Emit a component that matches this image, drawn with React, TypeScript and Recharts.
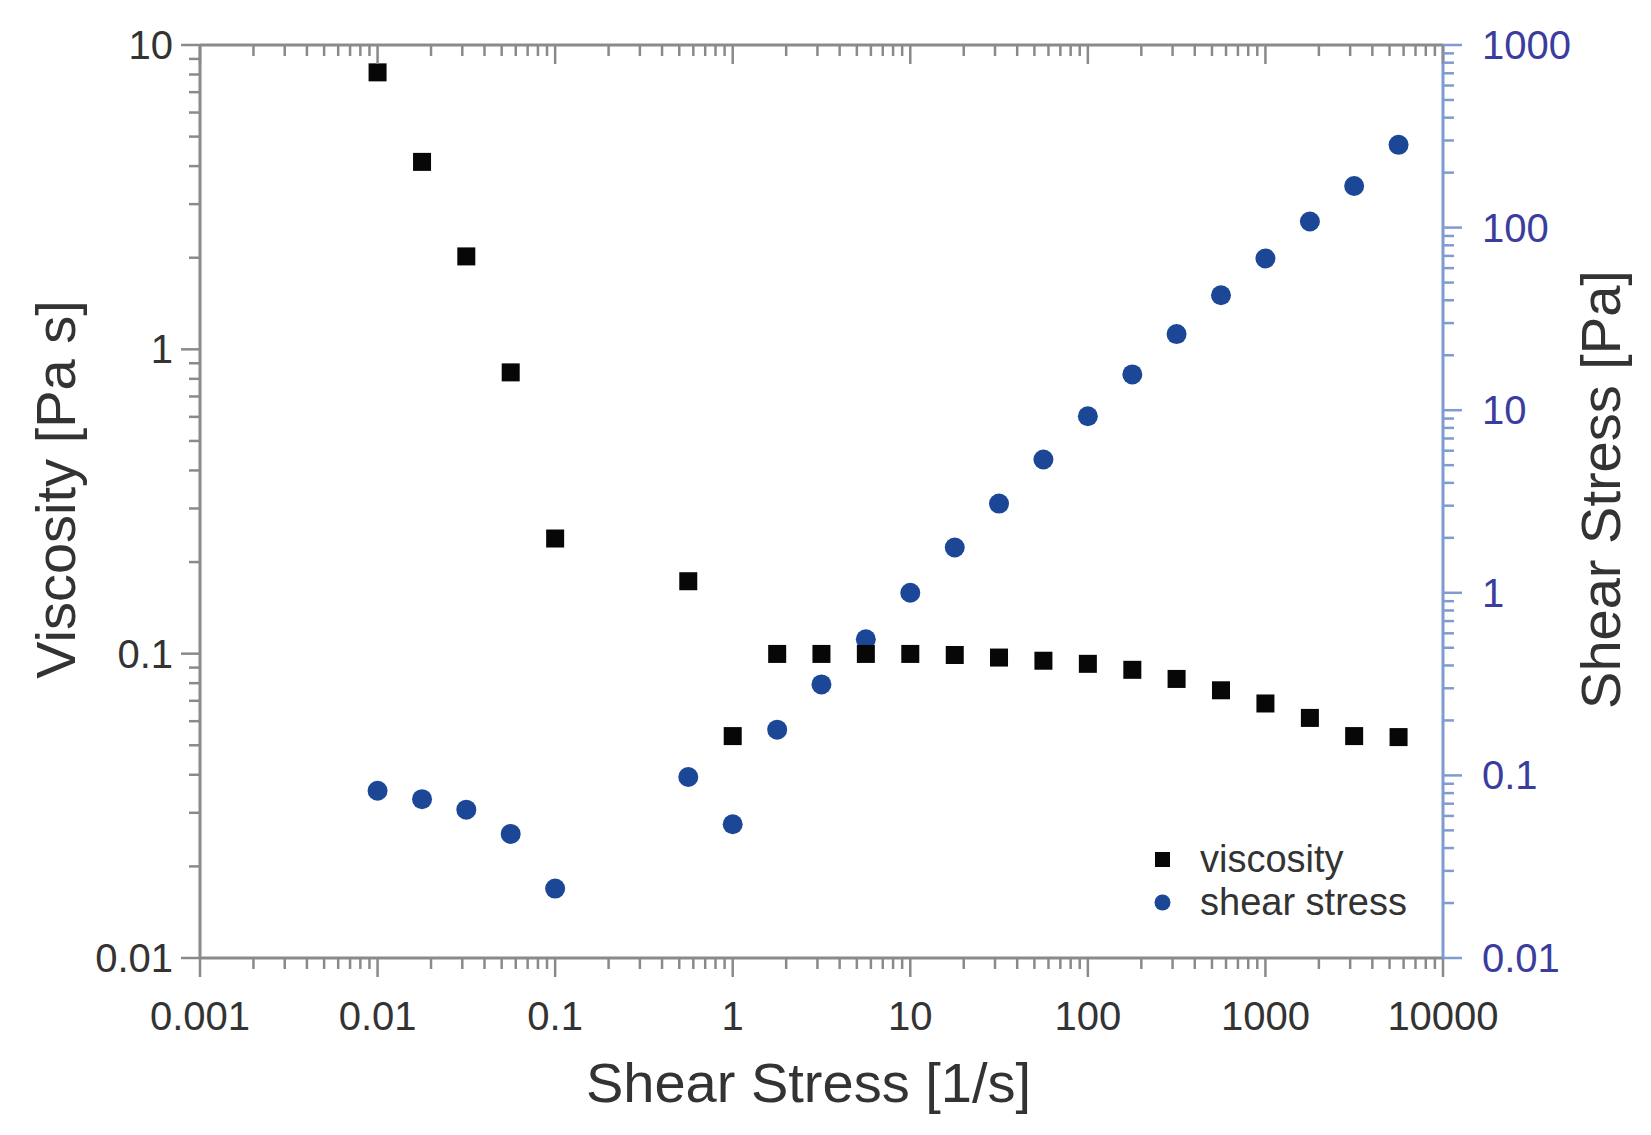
import { ScatterChart, Scatter, XAxis, YAxis, Legend } from "recharts";

// shear rate (x)
const shearRate = [
  0.01, 0.0178, 0.0316, 0.0562, 0.1, 0.562, 1, 1.78, 3.16, 5.62, 10, 17.8, 31.6, 56.2, 100, 178, 316, 562, 1000,
  1780, 3160, 5620,
];
const viscosity = [
  8.13, 4.13, 2.02, 0.84, 0.239, 0.173, 0.0536, 0.0998, 0.0998, 0.0998, 0.0998, 0.099, 0.0971, 0.0948, 0.0926,
  0.0885, 0.0826, 0.0758, 0.0686, 0.0615, 0.0536, 0.0532,
];
const shearStress = [
  0.0824, 0.0741, 0.0649, 0.0478, 0.024, 0.098, 0.054, 0.178, 0.315, 0.556, 1.0, 1.77, 3.08, 5.37, 9.27, 15.7, 26.1,
  42.6, 67.7, 108, 169, 284,
];

const xMajor = [0.001, 0.01, 0.1, 1, 10, 100, 1000, 10000];
const xLabels = ["0.001", "0.01", "0.1", "1", "10", "100", "1000", "10000"];
const leftMajor = [0.01, 0.1, 1, 10];
const leftLabels = ["0.01", "0.1", "1", "10"];
const rightMajor = [0.01, 0.1, 1, 10, 100, 1000];
const rightLabels = ["0.01", "0.1", "1", "10", "100", "1000"];

const legendNames = ["viscosity", "shear stress"];

const BLACK = "#070707";
const BLUE = "#1c4796";
const GREY = "#8a8a8a";
const RIGHT_AXIS = "#7f9bcf";
const RIGHT_TEXT = "#3a3c9e";
const TEXT = "#333333";
const TICK_FONT = 40;
const TITLE_FONT = 56;

const viscosityData = shearRate.map((x, i) => ({ x, y: viscosity[i] }));
const stressData = shearRate.map((x, i) => ({ x, y: shearStress[i] }));

// majors plus 2..9 minors in each decade
function withMinor(majors: number[]) {
  const out: number[] = [];
  majors.forEach((m, i) => {
    out.push(m);
    if (i < majors.length - 1) for (let k = 2; k <= 9; k++) out.push(m * k);
  });
  return out;
}

function makeTick(side: string, majors: number[], labels: string[] | null, color: string, textColor: string) {
  return (props: any) => {
    const { x, y, payload } = props;
    const i = majors.findIndex((m) => Math.abs(payload.value / m - 1) < 1e-6);
    const major = i >= 0;
    const len = major ? 19 : 11;
    const w = 2.5;
    let line;
    let label = null;
    if (side === "bottom" || side === "top") {
      line = <line x1={x} y1={y} x2={x} y2={y + len} stroke={color} strokeWidth={w} />;
      if (labels && major)
        label = (
          <text x={x} y={y + 58} textAnchor="middle" dominantBaseline="central" fill={textColor} fontSize={TICK_FONT}>
            {labels[i]}
          </text>
        );
    } else if (side === "left") {
      line = <line x1={x} y1={y} x2={x - len} y2={y} stroke={color} strokeWidth={w} />;
      if (labels && major)
        label = (
          <text x={x - 27} y={y} textAnchor="end" dominantBaseline="central" fill={textColor} fontSize={TICK_FONT}>
            {labels[i]}
          </text>
        );
    } else {
      line = <line x1={x} y1={y} x2={x + len} y2={y} stroke={color} strokeWidth={w} />;
      if (labels && major)
        label = (
          <text x={x + 39} y={y} textAnchor="start" dominantBaseline="central" fill={textColor} fontSize={TICK_FONT}>
            {labels[i]}
          </text>
        );
    }
    return (
      <g>
        {line}
        {label}
      </g>
    );
  };
}

const SquareDot = (p: any) => <rect x={p.cx - 9} y={p.cy - 9} width={18} height={18} fill={BLACK} />;
const RoundDot = (p: any) => <circle cx={p.cx} cy={p.cy} r={10} fill={BLUE} />;

function LegendBox() {
  return (
    <div style={{ fontSize: 38, color: TEXT, lineHeight: "43px" }}>
      {legendNames.map((name, i) => (
        <div key={name} style={{ display: "flex", alignItems: "center" }}>
          <svg width={50} height={43}>
            {i === 0 ? (
              <rect x={5} y={14} width={15} height={15} fill={BLACK} />
            ) : (
              <circle cx={12.5} cy={21.5} r={8} fill={BLUE} />
            )}
          </svg>
          <span>{name}</span>
        </div>
      ))}
    </div>
  );
}

export default function App() {
  return (
    <div
      style={{
        position: "absolute",
        left: 0,
        top: 0,
        width: 1651,
        height: 1135,
        background: "#fff",
        fontFamily: "'Liberation Sans', Arial, sans-serif",
      }}
    >
      <ScatterChart width={1651} height={1135} margin={{ top: 0, right: 0, bottom: 0, left: 0 }}>
        <XAxis
          xAxisId="bottom"
          dataKey="x"
          type="number"
          scale="log"
          domain={[0.001, 10000]}
          allowDataOverflow
          ticks={withMinor(xMajor)}
          interval={0}
          height={177}
          tickSize={0}
          tickMargin={0}
          tickLine={false}
          axisLine={{ stroke: GREY, strokeWidth: 3 }}
          tick={makeTick("bottom", xMajor, xLabels, GREY, TEXT)}
          label={{
            value: "Shear Stress [1/s]",
            position: "insideBottom",
            offset: 33,
            dx: -13,
            fontSize: TITLE_FONT,
            fill: TEXT,
          }}
        />
        <XAxis
          xAxisId="top"
          orientation="top"
          dataKey="x"
          type="number"
          scale="log"
          domain={[0.001, 10000]}
          allowDataOverflow
          ticks={withMinor(xMajor)}
          interval={0}
          height={45}
          tickSize={0}
          tickMargin={0}
          tickLine={false}
          axisLine={{ stroke: GREY, strokeWidth: 3 }}
          tick={makeTick("top", xMajor, null, GREY, TEXT)}
        />
        <YAxis
          yAxisId="left"
          dataKey="y"
          type="number"
          scale="log"
          domain={[0.01, 10]}
          allowDataOverflow
          ticks={withMinor(leftMajor)}
          interval={0}
          width={200}
          tickSize={0}
          tickMargin={0}
          tickLine={false}
          axisLine={{ stroke: GREY, strokeWidth: 3 }}
          tick={makeTick("left", leftMajor, leftLabels, GREY, TEXT)}
          label={{
            value: "Viscosity [Pa s]",
            angle: -90,
            position: "insideLeft",
            offset: 55,
            dy: -12,
            fontSize: TITLE_FONT,
            fill: TEXT,
            style: { textAnchor: "middle" },
          }}
        />
        <YAxis
          yAxisId="right"
          orientation="right"
          dataKey="y"
          type="number"
          scale="log"
          domain={[0.01, 1000]}
          allowDataOverflow
          ticks={withMinor(rightMajor)}
          interval={0}
          width={208}
          tickSize={0}
          tickMargin={0}
          tickLine={false}
          axisLine={{ stroke: RIGHT_AXIS, strokeWidth: 3 }}
          tick={makeTick("right", rightMajor, rightLabels, RIGHT_AXIS, RIGHT_TEXT)}
          label={{
            value: "Shear Stress [Pa]",
            angle: -90,
            position: "insideRight",
            offset: 51,
            dy: -12,
            fontSize: TITLE_FONT,
            fill: TEXT,
            style: { textAnchor: "middle" },
          }}
        />
        <Scatter
          name="shear stress"
          data={stressData}
          xAxisId="bottom"
          yAxisId="right"
          shape={RoundDot}
          isAnimationActive={false}
        />
        <Scatter
          name="viscosity"
          data={viscosityData}
          xAxisId="bottom"
          yAxisId="left"
          shape={SquareDot}
          isAnimationActive={false}
        />
        <Legend
          layout="vertical"
          align="center"
          verticalAlign="middle"
          content={() => <LegendBox />}
          wrapperStyle={{ position: "absolute", left: 1150, top: 838, width: "auto" }}
        />
      </ScatterChart>
    </div>
  );
}
